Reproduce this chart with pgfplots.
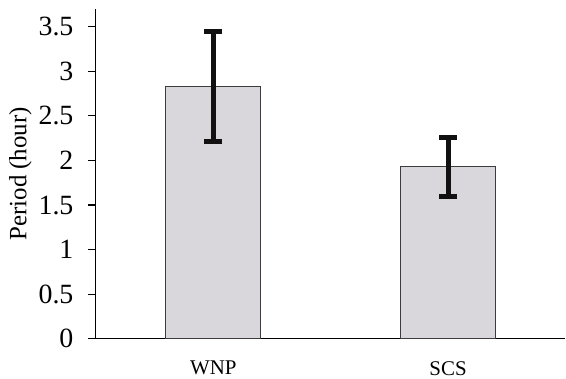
\documentclass[border=0pt]{standalone}
\usepackage{pgfplots}
\pgfplotsset{compat=1.18}
\usepackage{fontspec}
\setmainfont{Liberation Serif}
\definecolor{barfill}{RGB}{217,215,219}
\definecolor{baredge}{RGB}{60,60,60}
\definecolor{errc}{RGB}{17,17,17}
\begin{document}
\begin{tikzpicture}
\begin{axis}[
  scale only axis,
  width=470bp, height=330bp,
  xmin=0, xmax=2,
  ymin=0, ymax=3.70,
  axis x line*=bottom,
  axis y line*=left,
  axis line style={black, line width=1.1bp},
  ytick={0,0.5,1,1.5,2,2.5,3,3.5},
  yticklabels={0,0.5,1,1.5,2,2.5,3,3.5},
  xtick={0.5,1.5},
  xticklabels={WNP,SCS},
  tick align=outside,
  major tick length=8bp,
  ytick style={black, line width=1.1bp},
  xtick style={draw=none},
  /pgf/number format/assume math mode=true,
  yticklabel style={font=\fontsize{28}{28}\selectfont, xshift=-11bp},
  xticklabel style={font=\fontsize{21}{21}\selectfont, yshift=-11bp},
  ylabel={Period (hour)},
  ylabel style={font=\fontsize{25}{25}\selectfont},
  clip=false,
]
\addplot[ybar, bar width=95bp, fill=barfill, draw=baredge, line width=0.8bp,
  error bars/.cd, y dir=both, y explicit,
  error bar style={errc, line width=5bp},
  error mark=-,
  error mark options={errc, line width=5bp, mark size=9bp, rotate=90}]
  coordinates {
    (0.5,2.83) +- (0,0.62)
    (1.5,1.93) +- (0,0.33)
  };
\end{axis}
\path ([xshift=-96bp,yshift=-39bp]current axis.south west) rectangle ++(566bp,378bp);
\end{tikzpicture}
\end{document}
